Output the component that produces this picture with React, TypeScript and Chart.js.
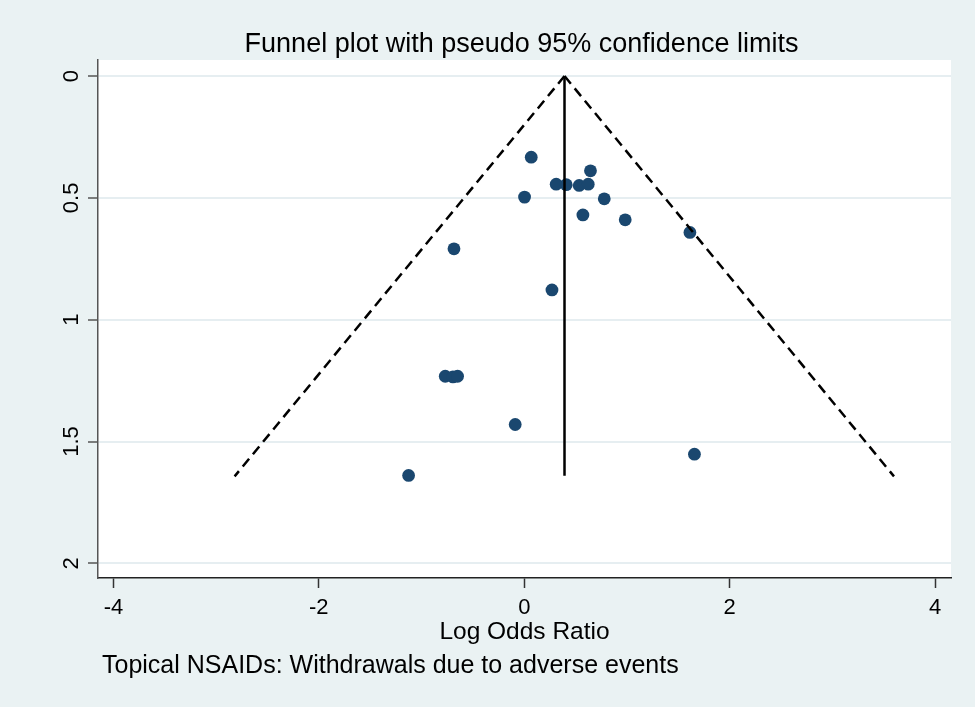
import React, { useEffect, useRef } from "react";
import { Chart, registerables } from "chart.js";

Chart.register(...registerables);

// Study estimates: log odds ratio and its standard error
const logOddsRatio = [
  0.068, 0.645, 0.311, 0.409, 0.535, 0.623, 0.003, 0.779, 0.571, 0.983,
  1.613, -0.684, 0.27, -0.769, -0.694, -0.649, -0.088, 1.657, -1.126,
];
const standardError = [
  0.333, 0.389, 0.444, 0.446, 0.449, 0.444, 0.497, 0.504, 0.57, 0.59,
  0.642, 0.709, 0.878, 1.232, 1.235, 1.232, 1.43, 1.552, 1.639,
];

// Pooled estimate line and pseudo 95% confidence limits (endpoints)
const pooledLine = [
  { x: 0.392, y: 0 },
  { x: 0.392, y: 1.64 },
];
const lowerLimit = [
  { x: 0.392, y: 0 },
  { x: -2.82, y: 1.643 },
];
const upperLimit = [
  { x: 0.392, y: 0 },
  { x: 3.6, y: 1.643 },
];

const xTicks = [-4, -2, 0, 2, 4];
const yTicks = [0, 0.5, 1, 1.5, 2];
const yTickLabels = ["0", "0.5", "1", "1.5", "2"];

const titleText = "Funnel plot with pseudo 95% confidence limits";
const xTitleText = "Log Odds Ratio";
const noteText = "Topical NSAIDs: Withdrawals due to adverse events";

const FONT = "'Liberation Sans', Arial, Helvetica, sans-serif";
const BG = "#EAF2F3";
const NAVY = "#1A476F";

export default function App() {
  const ref = useRef<HTMLCanvasElement | null>(null);

  useEffect(() => {
    document.body.style.margin = "0";
    const canvas = ref.current;
    if (!canvas) return;

    const decor = {
      id: "decor",
      beforeDraw(chart: any) {
        const { ctx, chartArea } = chart;
        ctx.save();
        ctx.fillStyle = BG;
        ctx.fillRect(0, 0, chart.width, chart.height);
        ctx.fillStyle = "#FFFFFF";
        ctx.fillRect(
          chartArea.left,
          chartArea.top,
          chartArea.right - chartArea.left,
          chartArea.bottom - chartArea.top
        );
        ctx.restore();
      },
      afterDraw(chart: any) {
        const { ctx, chartArea } = chart;
        const yScale = chart.scales.y;
        ctx.save();
        ctx.fillStyle = "#000000";
        // title
        ctx.font = `27px ${FONT}`;
        ctx.textAlign = "center";
        ctx.textBaseline = "alphabetic";
        ctx.fillText(titleText, (chartArea.left + chartArea.right) / 2 - 3, 52);
        // x axis title
        ctx.font = `24.5px ${FONT}`;
        ctx.fillText(xTitleText, (chartArea.left + chartArea.right) / 2, 639);
        // note
        ctx.textAlign = "left";
        ctx.font = `25px ${FONT}`;
        ctx.fillText(noteText, 102, 673);
        // rotated y tick labels
        ctx.font = `22px ${FONT}`;
        ctx.textAlign = "center";
        yTicks.forEach((v, i) => {
          const py = yScale.getPixelForValue(v);
          ctx.save();
          ctx.translate(78, py);
          ctx.rotate(-Math.PI / 2);
          ctx.fillText(yTickLabels[i], 0, 0);
          ctx.restore();
        });
        ctx.restore();
      },
    };

    const points = logOddsRatio.map((x, i) => ({ x, y: standardError[i] }));

    const chart = new Chart(canvas, {
      type: "scatter",
      data: {
        datasets: [
          {
            label: "Lower limit",
            data: lowerLimit,
            showLine: true,
            borderColor: "#000000",
            borderWidth: 2.5,
            borderDash: [10, 6],
            pointRadius: 0,
            fill: false,
          },
          {
            label: "Upper limit",
            data: upperLimit,
            showLine: true,
            borderColor: "#000000",
            borderWidth: 2.5,
            borderDash: [10, 6],
            pointRadius: 0,
            fill: false,
          },
          {
            label: "Pooled",
            data: pooledLine,
            showLine: true,
            borderColor: "#000000",
            borderWidth: 2.5,
            pointRadius: 0,
            fill: false,
          },
          {
            label: "Studies",
            data: points,
            backgroundColor: NAVY,
            borderColor: NAVY,
            borderWidth: 0,
            pointRadius: 6.4,
            pointHoverRadius: 6.4,
          },
        ],
      },
      options: {
        responsive: false,
        animation: false,
        devicePixelRatio: 1,
        layout: { padding: { top: 60, right: 24, left: 0, bottom: 0 } },
        plugins: {
          legend: { display: false },
          tooltip: { enabled: false },
          title: { display: false },
        },
        scales: {
          x: {
            type: "linear",
            min: -4.15,
            max: 4.155,
            afterBuildTicks: (scale: any) => {
              scale.ticks = xTicks.map((v) => ({ value: v }));
            },
            afterFit: (scale: any) => {
              scale.height = 129;
            },
            ticks: {
              font: { family: FONT, size: 22 },
              color: "#000000",
              padding: 7,
              maxRotation: 0,
              minRotation: 0,
              callback: (v: any) => String(v),
            },
            grid: {
              drawOnChartArea: false,
              drawTicks: true,
              tickLength: 10,
              tickColor: "#333333",
              tickWidth: 1.5,
            },
            border: { display: true, color: "#222222", width: 1.5 },
          },
          y: {
            type: "linear",
            reverse: true,
            min: -0.0657,
            max: 2.06,
            afterBuildTicks: (scale: any) => {
              scale.ticks = yTicks.map((v) => ({ value: v }));
            },
            afterFit: (scale: any) => {
              scale.width = 98;
            },
            ticks: { display: false },
            grid: {
              drawOnChartArea: true,
              drawTicks: true,
              tickLength: 10,
              color: "#E6EEF1",
              lineWidth: 2,
              tickColor: "#555555",
              tickWidth: 1.5,
            },
            border: { display: true, color: "#555555", width: 1.5 },
          },
        },
      },
      plugins: [decor],
    });

    return () => chart.destroy();
  }, []);

  return (
    <div style={{ width: 975, height: 707 }}>
      <canvas ref={ref} width={975} height={707} style={{ display: "block" }} />
    </div>
  );
}
